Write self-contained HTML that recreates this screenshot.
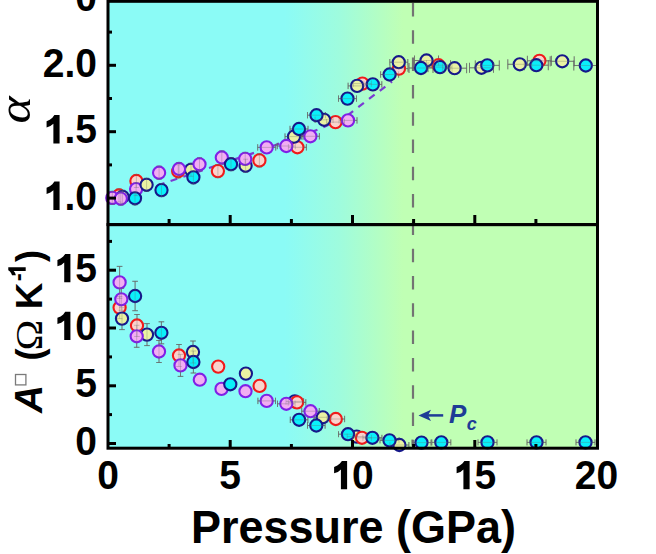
<!DOCTYPE html>
<html><head><meta charset="utf-8"><style>
html,body{margin:0;padding:0;background:#fff;width:656px;height:554px;overflow:hidden}
svg{display:block}
text{font-family:"Liberation Sans",sans-serif;font-weight:bold;fill:#000}
</style></head><body>
<svg width="656" height="554" viewBox="0 0 656 554">
<defs>
<linearGradient id="bg" gradientUnits="userSpaceOnUse" x1="285" y1="0" x2="403" y2="0">
<stop offset="0" stop-color="#8bfbf6"/><stop offset="0.47" stop-color="#9ffcdd"/><stop offset="1" stop-color="#c0ffb4"/>
</linearGradient>
</defs>
<rect x="108" y="1" width="490" height="447" fill="url(#bg)"/>
<path d="M413 3V448" stroke="#737373" stroke-width="2.2" stroke-dasharray="13.5 13.8" fill="none"/>
<path d="M112 200.5 L175 179.5 L255 152.5 L318 129.6 L345 117.3 L392 81.5" stroke="#7a3cd2" stroke-width="2.2" stroke-dasharray="7 6.5" stroke-dashoffset="5.74" fill="none"/>
<path d="M112.3 191.4V204.4M109.8 191.4H114.8M109.8 204.4H114.8M119 189.0V202.0M116.5 189.0H121.5M116.5 202.0H121.5M122.6 190.3V203.3M120.1 190.3H125.1M120.1 203.3H125.1M120.8 192.1V205.1M118.3 192.1H123.3M118.3 205.1H123.3M135 191.8V204.8M132.5 191.8H137.5M132.5 204.8H137.5M136.1 182.6V195.6M133.6 182.6H138.6M133.6 195.6H138.6M136.4 174.5V187.5M133.9 174.5H138.9M133.9 187.5H138.9M146.6 178.3V191.3M144.1 178.3H149.1M144.1 191.3H149.1M159.1 166.2V179.2M156.6 166.2H161.6M156.6 179.2H161.6M161.5 183.6V196.6M159.0 183.6H164.0M159.0 196.6H164.0M178.2 164.8V177.8M175.7 164.8H180.7M175.7 177.8H180.7M179 162.5V175.5M176.5 162.5H181.5M176.5 175.5H181.5M191 163.3V176.3M188.5 163.3H193.5M188.5 176.3H193.5M193.4 170.8V183.8M190.9 170.8H195.9M190.9 183.8H195.9M199.5 157.8V170.8M197.0 157.8H202.0M197.0 170.8H202.0M217.9 164.6V177.6M215.4 164.6H220.4M215.4 177.6H220.4M221.8 151.0V164.0M219.3 151.0H224.3M219.3 164.0H224.3M231 157.7V170.7M228.5 157.7H233.5M228.5 170.7H233.5M245.6 159.2V172.2M243.1 159.2H248.1M243.1 172.2H248.1M245.2 152.4V165.4M242.7 152.4H247.7M242.7 165.4H247.7M259.4 153.9V166.9M256.9 153.9H261.9M256.9 166.9H261.9M257.7 147.4H275.7M257.7 144.20000000000002V150.6M275.7 144.20000000000002V150.6M277.3 146H295.3M277.3 142.8V149.2M295.3 142.8V149.2M288.4 147.3H306.4M288.4 144.10000000000002V150.5M306.4 144.10000000000002V150.5M285.0 136.6H303.0M285.0 133.4V139.79999999999998M303.0 133.4V139.79999999999998M290.0 129H308.0M290.0 125.8V132.2M308.0 125.8V132.2M301.4 136.3H319.4M301.4 133.10000000000002V139.5M319.4 133.10000000000002V139.5M307.5 115.2H325.5M307.5 112.0V118.4M325.5 112.0V118.4M315.1 119.8H333.1M315.1 116.6V123.0M333.1 116.6V123.0M326.5 122.1H344.5M326.5 118.89999999999999V125.3M344.5 118.89999999999999V125.3M339.0 120.4H357.0M339.0 117.2V123.60000000000001M357.0 117.2V123.60000000000001M338.5 98.6H356.5M338.5 95.39999999999999V101.8M356.5 95.39999999999999V101.8M353.4 83.6H371.4M353.4 80.39999999999999V86.8M371.4 80.39999999999999V86.8M348.1 85.9H366.1M348.1 82.7V89.10000000000001M366.1 82.7V89.10000000000001M363.8 84.4H381.8M363.8 81.2V87.60000000000001M381.8 81.2V87.60000000000001M380.6 74.5H398.6M380.6 71.3V77.7M398.6 71.3V77.7M390.0 68.6H408.0M390.0 65.39999999999999V71.8M408.0 65.39999999999999V71.8M389.8 62.2H407.8M389.8 59.0V65.4M407.8 59.0V65.4M414.5 60.5H438.5M414.5 55.5V65.5M438.5 55.5V65.5M409.0 68H433.0M409.0 63V73M433.0 63V73M426.5 65.2H450.5M426.5 60.2V70.2M450.5 60.2V70.2M428.0 67.1H452.0M428.0 62.099999999999994V72.1M452.0 62.099999999999994V72.1M442.6 68.2H466.6M442.6 63.2V73.2M466.6 63.2V73.2M469.5 67.8H493.5M469.5 62.8V72.8M493.5 62.8V72.8M475.3 65.4H499.3M475.3 60.400000000000006V70.4M499.3 60.400000000000006V70.4M507.8 64.3H531.8M507.8 59.3V69.3M531.8 59.3V69.3M527.4 60.8H551.4M527.4 55.8V65.8M551.4 55.8V65.8M524.3 65.2H548.3M524.3 60.2V70.2M548.3 60.2V70.2M550.2 61.3H574.2M550.2 56.3V66.3M574.2 56.3V66.3M573.8 65.5H597.8M573.8 60.5V70.5M597.8 60.5V70.5M119.6 266.4V298.4M116.8 266.4H122.39999999999999M116.8 298.4H122.39999999999999M119.6 296.6V318.6M116.8 296.6H122.39999999999999M116.8 318.6H122.39999999999999M121.3 288.3V310.3M118.5 288.3H124.1M118.5 310.3H124.1M122 307.6V329.6M119.2 307.6H124.8M119.2 329.6H124.8M135.1 281.3V310.7M132.29999999999998 281.3H137.9M132.29999999999998 310.7H137.9M137 314.5V336.5M134.2 314.5H139.8M134.2 336.5H139.8M136.7 325.3V347.3M133.89999999999998 325.3H139.5M133.89999999999998 347.3H139.5M147 323.6V345.6M144.2 323.6H149.8M144.2 345.6H149.8M161.4 321.8V343.8M158.6 321.8H164.20000000000002M158.6 343.8H164.20000000000002M159 340.5V362.5M156.2 340.5H161.8M156.2 362.5H161.8M179 344.5V366.5M176.2 344.5H181.8M176.2 366.5H181.8M180.5 354.4V376.4M177.7 354.4H183.3M177.7 376.4H183.3M193 341.0V363.0M190.2 341.0H195.8M190.2 363.0H195.8M193.4 351.0V373.0M190.6 351.0H196.20000000000002M190.6 373.0H196.20000000000002M257.9 400.9H275.5M257.9 397.7V404.09999999999997M275.5 397.7V404.09999999999997M286.0 401.4H303.6M286.0 398.2V404.59999999999997M303.6 398.2V404.59999999999997M288.2 402.4H305.8M288.2 399.2V405.59999999999997M305.8 399.2V405.59999999999997M277.5 403.8H295.1M277.5 400.6V407.0M295.1 400.6V407.0M301.7 411.2H319.3M301.7 408.0V414.4M319.3 408.0V414.4M290.3 419.8H307.9M290.3 416.6V423.0M307.9 416.6V423.0M314.0 417.3H331.6M314.0 414.1V420.5M331.6 414.1V420.5M327.0 419H344.6M327.0 415.8V422.2M344.6 415.8V422.2M307.5 425.5H325.1M307.5 422.3V428.7M325.1 422.3V428.7M338.5 434.2H357.5M338.5 431.2V437.2M357.5 431.2V437.2M347.2 436.6H366.2M347.2 433.6V439.6M366.2 433.6V439.6M352.5 437.8H371.5M352.5 434.8V440.8M371.5 434.8V440.8M362.9 437.8H381.9M362.9 434.8V440.8M381.9 434.8V440.8M380.0 440.4H399.0M380.0 437.4V443.4M399.0 437.4V443.4M389.9 445H408.9M389.9 442V448M408.9 442V448M412.0 442.6H431.0M412.0 439.6V445.6M431.0 439.6V445.6M431.8 442.4H450.8M431.8 439.4V445.4M450.8 439.4V445.4M478.0 442.4H497.0M478.0 439.4V445.4M497.0 439.4V445.4M527.0 442.4H546.0M527.0 439.4V445.4M546.0 439.4V445.4M576.0 442.4H595.0M576.0 439.4V445.4M595.0 439.4V445.4" stroke="#666" stroke-width="0.8" fill="none"/>
<circle cx="119" cy="195.5" r="6.1" fill="#fad2cc" stroke="#f01a1a" stroke-width="2.1"/>
<circle cx="136.4" cy="181" r="6.1" fill="#fad2cc" stroke="#f01a1a" stroke-width="2.1"/>
<circle cx="178.2" cy="171.3" r="6.1" fill="#fad2cc" stroke="#f01a1a" stroke-width="2.1"/>
<circle cx="217.9" cy="171.1" r="6.1" fill="#fad2cc" stroke="#f01a1a" stroke-width="2.1"/>
<circle cx="259.4" cy="160.4" r="6.1" fill="#fad2cc" stroke="#f01a1a" stroke-width="2.1"/>
<circle cx="297.4" cy="147.3" r="6.1" fill="#fad2cc" stroke="#f01a1a" stroke-width="2.1"/>
<circle cx="335.5" cy="122.1" r="6.1" fill="#fad2cc" stroke="#f01a1a" stroke-width="2.1"/>
<circle cx="362.4" cy="83.6" r="6.1" fill="#fad2cc" stroke="#f01a1a" stroke-width="2.1"/>
<circle cx="399" cy="68.6" r="6.1" fill="#fad2cc" stroke="#f01a1a" stroke-width="2.1"/>
<circle cx="438.5" cy="65.2" r="6.1" fill="#fad2cc" stroke="#f01a1a" stroke-width="2.1"/>
<circle cx="539.4" cy="60.8" r="6.1" fill="#fad2cc" stroke="#f01a1a" stroke-width="2.1"/>
<circle cx="122.6" cy="196.8" r="6.1" fill="#eaf2a2" stroke="#16188a" stroke-width="2.1"/>
<circle cx="191" cy="169.8" r="6.1" fill="#eaf2a2" stroke="#16188a" stroke-width="2.1"/>
<circle cx="245.6" cy="165.7" r="6.1" fill="#eaf2a2" stroke="#16188a" stroke-width="2.1"/>
<circle cx="294" cy="136.6" r="6.1" fill="#eaf2a2" stroke="#16188a" stroke-width="2.1"/>
<circle cx="324.1" cy="119.8" r="6.1" fill="#eaf2a2" stroke="#16188a" stroke-width="2.1"/>
<circle cx="357.1" cy="85.9" r="6.1" fill="#eaf2a2" stroke="#16188a" stroke-width="2.1"/>
<circle cx="398.8" cy="62.2" r="6.1" fill="#eaf2a2" stroke="#16188a" stroke-width="2.1"/>
<circle cx="426.5" cy="60.5" r="6.1" fill="#eaf2a2" stroke="#16188a" stroke-width="2.1"/>
<circle cx="454.6" cy="68.2" r="6.1" fill="#eaf2a2" stroke="#16188a" stroke-width="2.1"/>
<circle cx="481.5" cy="67.8" r="6.1" fill="#eaf2a2" stroke="#16188a" stroke-width="2.1"/>
<circle cx="519.8" cy="64.3" r="6.1" fill="#eaf2a2" stroke="#16188a" stroke-width="2.1"/>
<circle cx="562.2" cy="61.3" r="6.1" fill="#eaf2a2" stroke="#16188a" stroke-width="2.1"/>
<circle cx="112.3" cy="197.9" r="6.1" fill="#f2aef2" stroke="#8020e6" stroke-width="2.1"/>
<circle cx="120.8" cy="198.6" r="6.1" fill="#f2aef2" stroke="#8020e6" stroke-width="2.1"/>
<circle cx="136.1" cy="189.1" r="6.1" fill="#f2aef2" stroke="#8020e6" stroke-width="2.1"/>
<circle cx="159.1" cy="172.7" r="6.1" fill="#f2aef2" stroke="#8020e6" stroke-width="2.1"/>
<circle cx="179" cy="169" r="6.1" fill="#f2aef2" stroke="#8020e6" stroke-width="2.1"/>
<circle cx="199.5" cy="164.3" r="6.1" fill="#f2aef2" stroke="#8020e6" stroke-width="2.1"/>
<circle cx="221.8" cy="157.5" r="6.1" fill="#f2aef2" stroke="#8020e6" stroke-width="2.1"/>
<circle cx="245.2" cy="158.9" r="6.1" fill="#f2aef2" stroke="#8020e6" stroke-width="2.1"/>
<circle cx="266.7" cy="147.4" r="6.1" fill="#f2aef2" stroke="#8020e6" stroke-width="2.1"/>
<circle cx="286.3" cy="146" r="6.1" fill="#f2aef2" stroke="#8020e6" stroke-width="2.1"/>
<circle cx="310.4" cy="136.3" r="6.1" fill="#f2aef2" stroke="#8020e6" stroke-width="2.1"/>
<circle cx="348" cy="120.4" r="6.1" fill="#f2aef2" stroke="#8020e6" stroke-width="2.1"/>
<circle cx="146.6" cy="184.8" r="6.1" fill="#eaf2a2" stroke="#16188a" stroke-width="2.1"/>
<circle cx="135" cy="198.3" r="6.1" fill="#0af0fa" stroke="#16188a" stroke-width="2.1"/>
<circle cx="161.5" cy="190.1" r="6.1" fill="#0af0fa" stroke="#16188a" stroke-width="2.1"/>
<circle cx="193.4" cy="177.3" r="6.1" fill="#0af0fa" stroke="#16188a" stroke-width="2.1"/>
<circle cx="231" cy="164.2" r="6.1" fill="#0af0fa" stroke="#16188a" stroke-width="2.1"/>
<circle cx="299" cy="129" r="6.1" fill="#0af0fa" stroke="#16188a" stroke-width="2.1"/>
<circle cx="316.5" cy="115.2" r="6.1" fill="#0af0fa" stroke="#16188a" stroke-width="2.1"/>
<circle cx="347.5" cy="98.6" r="6.1" fill="#0af0fa" stroke="#16188a" stroke-width="2.1"/>
<circle cx="372.8" cy="84.4" r="6.1" fill="#0af0fa" stroke="#16188a" stroke-width="2.1"/>
<circle cx="389.6" cy="74.5" r="6.1" fill="#0af0fa" stroke="#16188a" stroke-width="2.1"/>
<circle cx="421" cy="68" r="6.1" fill="#0af0fa" stroke="#16188a" stroke-width="2.1"/>
<circle cx="440" cy="67.1" r="6.1" fill="#0af0fa" stroke="#16188a" stroke-width="2.1"/>
<circle cx="487.3" cy="65.4" r="6.1" fill="#0af0fa" stroke="#16188a" stroke-width="2.1"/>
<circle cx="536.3" cy="65.2" r="6.1" fill="#0af0fa" stroke="#16188a" stroke-width="2.1"/>
<circle cx="585.8" cy="65.5" r="6.1" fill="#0af0fa" stroke="#16188a" stroke-width="2.1"/>
<circle cx="119.6" cy="307.6" r="6.1" fill="#fad2cc" stroke="#f01a1a" stroke-width="2.1"/>
<circle cx="137" cy="325.5" r="6.1" fill="#fad2cc" stroke="#f01a1a" stroke-width="2.1"/>
<circle cx="179" cy="355.5" r="6.1" fill="#fad2cc" stroke="#f01a1a" stroke-width="2.1"/>
<circle cx="218.2" cy="366.6" r="6.1" fill="#fad2cc" stroke="#f01a1a" stroke-width="2.1"/>
<circle cx="259.6" cy="385.9" r="6.1" fill="#fad2cc" stroke="#f01a1a" stroke-width="2.1"/>
<circle cx="335.8" cy="419" r="6.1" fill="#fad2cc" stroke="#f01a1a" stroke-width="2.1"/>
<circle cx="122" cy="318.6" r="6.1" fill="#eaf2a2" stroke="#16188a" stroke-width="2.1"/>
<circle cx="147" cy="334.6" r="6.1" fill="#eaf2a2" stroke="#16188a" stroke-width="2.1"/>
<circle cx="193" cy="352" r="6.1" fill="#eaf2a2" stroke="#16188a" stroke-width="2.1"/>
<circle cx="245.9" cy="373.6" r="6.1" fill="#eaf2a2" stroke="#16188a" stroke-width="2.1"/>
<circle cx="294.8" cy="401.4" r="6.1" fill="#eaf2a2" stroke="#16188a" stroke-width="2.1"/>
<circle cx="322.8" cy="417.3" r="6.1" fill="#eaf2a2" stroke="#16188a" stroke-width="2.1"/>
<circle cx="356.7" cy="436.6" r="6.1" fill="#eaf2a2" stroke="#16188a" stroke-width="2.1"/>
<circle cx="399.4" cy="445" r="6.1" fill="#eaf2a2" stroke="#16188a" stroke-width="2.1"/>
<circle cx="297" cy="402.4" r="6.1" fill="#fad2cc" stroke="#f01a1a" stroke-width="2.1"/>
<circle cx="362" cy="437.8" r="6.1" fill="#fad2cc" stroke="#f01a1a" stroke-width="2.1"/>
<circle cx="119.6" cy="282.4" r="6.1" fill="#f2aef2" stroke="#8020e6" stroke-width="2.1"/>
<circle cx="121.3" cy="299.3" r="6.1" fill="#f2aef2" stroke="#8020e6" stroke-width="2.1"/>
<circle cx="136.7" cy="336.3" r="6.1" fill="#f2aef2" stroke="#8020e6" stroke-width="2.1"/>
<circle cx="159" cy="351.5" r="6.1" fill="#f2aef2" stroke="#8020e6" stroke-width="2.1"/>
<circle cx="180.5" cy="365.4" r="6.1" fill="#f2aef2" stroke="#8020e6" stroke-width="2.1"/>
<circle cx="199.8" cy="379.7" r="6.1" fill="#f2aef2" stroke="#8020e6" stroke-width="2.1"/>
<circle cx="221.5" cy="388.9" r="6.1" fill="#f2aef2" stroke="#8020e6" stroke-width="2.1"/>
<circle cx="245.5" cy="391.2" r="6.1" fill="#f2aef2" stroke="#8020e6" stroke-width="2.1"/>
<circle cx="266.7" cy="400.9" r="6.1" fill="#f2aef2" stroke="#8020e6" stroke-width="2.1"/>
<circle cx="286.3" cy="403.8" r="6.1" fill="#f2aef2" stroke="#8020e6" stroke-width="2.1"/>
<circle cx="310.5" cy="411.2" r="6.1" fill="#f2aef2" stroke="#8020e6" stroke-width="2.1"/>
<circle cx="135.1" cy="296" r="6.1" fill="#0af0fa" stroke="#16188a" stroke-width="2.1"/>
<circle cx="161.4" cy="332.8" r="6.1" fill="#0af0fa" stroke="#16188a" stroke-width="2.1"/>
<circle cx="193.4" cy="362" r="6.1" fill="#0af0fa" stroke="#16188a" stroke-width="2.1"/>
<circle cx="230.3" cy="384.3" r="6.1" fill="#0af0fa" stroke="#16188a" stroke-width="2.1"/>
<circle cx="299.1" cy="419.8" r="6.1" fill="#0af0fa" stroke="#16188a" stroke-width="2.1"/>
<circle cx="316.3" cy="425.5" r="6.1" fill="#0af0fa" stroke="#16188a" stroke-width="2.1"/>
<circle cx="348" cy="434.2" r="6.1" fill="#0af0fa" stroke="#16188a" stroke-width="2.1"/>
<circle cx="372.4" cy="437.8" r="6.1" fill="#0af0fa" stroke="#16188a" stroke-width="2.1"/>
<circle cx="389.5" cy="440.4" r="6.1" fill="#0af0fa" stroke="#16188a" stroke-width="2.1"/>
<circle cx="421.5" cy="442.6" r="6.1" fill="#0af0fa" stroke="#16188a" stroke-width="2.1"/>
<circle cx="441.3" cy="442.4" r="6.1" fill="#0af0fa" stroke="#16188a" stroke-width="2.1"/>
<circle cx="487.5" cy="442.4" r="6.1" fill="#0af0fa" stroke="#16188a" stroke-width="2.1"/>
<circle cx="536.5" cy="442.4" r="6.1" fill="#0af0fa" stroke="#16188a" stroke-width="2.1"/>
<circle cx="585.5" cy="442.4" r="6.1" fill="#0af0fa" stroke="#16188a" stroke-width="2.1"/>
<path d="M112.3 191.4V204.4M109.8 191.4H114.8M109.8 204.4H114.8M119 189.0V202.0M116.5 189.0H121.5M116.5 202.0H121.5M122.6 190.3V203.3M120.1 190.3H125.1M120.1 203.3H125.1M120.8 192.1V205.1M118.3 192.1H123.3M118.3 205.1H123.3M135 191.8V204.8M132.5 191.8H137.5M132.5 204.8H137.5M136.1 182.6V195.6M133.6 182.6H138.6M133.6 195.6H138.6M136.4 174.5V187.5M133.9 174.5H138.9M133.9 187.5H138.9M146.6 178.3V191.3M144.1 178.3H149.1M144.1 191.3H149.1M159.1 166.2V179.2M156.6 166.2H161.6M156.6 179.2H161.6M161.5 183.6V196.6M159.0 183.6H164.0M159.0 196.6H164.0M178.2 164.8V177.8M175.7 164.8H180.7M175.7 177.8H180.7M179 162.5V175.5M176.5 162.5H181.5M176.5 175.5H181.5M191 163.3V176.3M188.5 163.3H193.5M188.5 176.3H193.5M193.4 170.8V183.8M190.9 170.8H195.9M190.9 183.8H195.9M199.5 157.8V170.8M197.0 157.8H202.0M197.0 170.8H202.0M217.9 164.6V177.6M215.4 164.6H220.4M215.4 177.6H220.4M221.8 151.0V164.0M219.3 151.0H224.3M219.3 164.0H224.3M231 157.7V170.7M228.5 157.7H233.5M228.5 170.7H233.5M245.6 159.2V172.2M243.1 159.2H248.1M243.1 172.2H248.1M245.2 152.4V165.4M242.7 152.4H247.7M242.7 165.4H247.7M259.4 153.9V166.9M256.9 153.9H261.9M256.9 166.9H261.9M257.7 147.4H275.7M257.7 144.20000000000002V150.6M275.7 144.20000000000002V150.6M277.3 146H295.3M277.3 142.8V149.2M295.3 142.8V149.2M288.4 147.3H306.4M288.4 144.10000000000002V150.5M306.4 144.10000000000002V150.5M285.0 136.6H303.0M285.0 133.4V139.79999999999998M303.0 133.4V139.79999999999998M290.0 129H308.0M290.0 125.8V132.2M308.0 125.8V132.2M301.4 136.3H319.4M301.4 133.10000000000002V139.5M319.4 133.10000000000002V139.5M307.5 115.2H325.5M307.5 112.0V118.4M325.5 112.0V118.4M315.1 119.8H333.1M315.1 116.6V123.0M333.1 116.6V123.0M326.5 122.1H344.5M326.5 118.89999999999999V125.3M344.5 118.89999999999999V125.3M339.0 120.4H357.0M339.0 117.2V123.60000000000001M357.0 117.2V123.60000000000001M338.5 98.6H356.5M338.5 95.39999999999999V101.8M356.5 95.39999999999999V101.8M353.4 83.6H371.4M353.4 80.39999999999999V86.8M371.4 80.39999999999999V86.8M348.1 85.9H366.1M348.1 82.7V89.10000000000001M366.1 82.7V89.10000000000001M363.8 84.4H381.8M363.8 81.2V87.60000000000001M381.8 81.2V87.60000000000001M380.6 74.5H398.6M380.6 71.3V77.7M398.6 71.3V77.7M390.0 68.6H408.0M390.0 65.39999999999999V71.8M408.0 65.39999999999999V71.8M389.8 62.2H407.8M389.8 59.0V65.4M407.8 59.0V65.4M414.5 60.5H438.5M414.5 55.5V65.5M438.5 55.5V65.5M409.0 68H433.0M409.0 63V73M433.0 63V73M426.5 65.2H450.5M426.5 60.2V70.2M450.5 60.2V70.2M428.0 67.1H452.0M428.0 62.099999999999994V72.1M452.0 62.099999999999994V72.1M442.6 68.2H466.6M442.6 63.2V73.2M466.6 63.2V73.2M469.5 67.8H493.5M469.5 62.8V72.8M493.5 62.8V72.8M475.3 65.4H499.3M475.3 60.400000000000006V70.4M499.3 60.400000000000006V70.4M507.8 64.3H531.8M507.8 59.3V69.3M531.8 59.3V69.3M527.4 60.8H551.4M527.4 55.8V65.8M551.4 55.8V65.8M524.3 65.2H548.3M524.3 60.2V70.2M548.3 60.2V70.2M550.2 61.3H574.2M550.2 56.3V66.3M574.2 56.3V66.3M573.8 65.5H597.8M573.8 60.5V70.5M597.8 60.5V70.5M119.6 266.4V298.4M116.8 266.4H122.39999999999999M116.8 298.4H122.39999999999999M119.6 296.6V318.6M116.8 296.6H122.39999999999999M116.8 318.6H122.39999999999999M121.3 288.3V310.3M118.5 288.3H124.1M118.5 310.3H124.1M122 307.6V329.6M119.2 307.6H124.8M119.2 329.6H124.8M135.1 281.3V310.7M132.29999999999998 281.3H137.9M132.29999999999998 310.7H137.9M137 314.5V336.5M134.2 314.5H139.8M134.2 336.5H139.8M136.7 325.3V347.3M133.89999999999998 325.3H139.5M133.89999999999998 347.3H139.5M147 323.6V345.6M144.2 323.6H149.8M144.2 345.6H149.8M161.4 321.8V343.8M158.6 321.8H164.20000000000002M158.6 343.8H164.20000000000002M159 340.5V362.5M156.2 340.5H161.8M156.2 362.5H161.8M179 344.5V366.5M176.2 344.5H181.8M176.2 366.5H181.8M180.5 354.4V376.4M177.7 354.4H183.3M177.7 376.4H183.3M193 341.0V363.0M190.2 341.0H195.8M190.2 363.0H195.8M193.4 351.0V373.0M190.6 351.0H196.20000000000002M190.6 373.0H196.20000000000002M257.9 400.9H275.5M257.9 397.7V404.09999999999997M275.5 397.7V404.09999999999997M286.0 401.4H303.6M286.0 398.2V404.59999999999997M303.6 398.2V404.59999999999997M288.2 402.4H305.8M288.2 399.2V405.59999999999997M305.8 399.2V405.59999999999997M277.5 403.8H295.1M277.5 400.6V407.0M295.1 400.6V407.0M301.7 411.2H319.3M301.7 408.0V414.4M319.3 408.0V414.4M290.3 419.8H307.9M290.3 416.6V423.0M307.9 416.6V423.0M314.0 417.3H331.6M314.0 414.1V420.5M331.6 414.1V420.5M327.0 419H344.6M327.0 415.8V422.2M344.6 415.8V422.2M307.5 425.5H325.1M307.5 422.3V428.7M325.1 422.3V428.7M338.5 434.2H357.5M338.5 431.2V437.2M357.5 431.2V437.2M347.2 436.6H366.2M347.2 433.6V439.6M366.2 433.6V439.6M352.5 437.8H371.5M352.5 434.8V440.8M371.5 434.8V440.8M362.9 437.8H381.9M362.9 434.8V440.8M381.9 434.8V440.8M380.0 440.4H399.0M380.0 437.4V443.4M399.0 437.4V443.4M389.9 445H408.9M389.9 442V448M408.9 442V448M412.0 442.6H431.0M412.0 439.6V445.6M431.0 439.6V445.6M431.8 442.4H450.8M431.8 439.4V445.4M450.8 439.4V445.4M478.0 442.4H497.0M478.0 439.4V445.4M497.0 439.4V445.4M527.0 442.4H546.0M527.0 439.4V445.4M546.0 439.4V445.4M576.0 442.4H595.0M576.0 439.4V445.4M595.0 439.4V445.4" stroke="#666" stroke-width="0.9" fill="none" opacity="0.35"/>
<g stroke="#000" stroke-width="3" fill="none">
<rect x="108" y="1.3" width="489.5" height="223.3"/>
<rect x="108" y="224.6" width="489.5" height="223.6"/>
<path d="M108 32.1H112" /><path d="M108 65.3H116" /><path d="M108 98.5H112" /><path d="M108 131.7H116" /><path d="M108 164.9H112" /><path d="M108 198.1H116" /><path d="M108 241.4H112" /><path d="M108 270.2H116" /><path d="M108 299.1H112" /><path d="M108 328.0H116" /><path d="M108 356.9H112" /><path d="M108 385.8H116" /><path d="M108 414.6H112" /><path d="M108 443.5H116" /><path d="M169.1 223H169.1V219" /><path d="M169.1 448H169.1V444" /><path d="M230.2 223H230.2V215" /><path d="M230.2 448H230.2V440" /><path d="M291.4 223H291.4V219" /><path d="M291.4 448H291.4V444" /><path d="M352.5 223H352.5V215" /><path d="M352.5 448H352.5V440" /><path d="M413.6 223H413.6V219" /><path d="M413.6 448H413.6V444" /><path d="M474.8 223H474.8V215" /><path d="M474.8 448H474.8V440" /><path d="M535.9 223H535.9V219" /><path d="M535.9 448H535.9V444" />
</g>
<g font-size="39">
<text transform="translate(97,11.2) scale(1,1.03)" text-anchor="end">0</text>
<text transform="translate(97,77) scale(1,1.03)" text-anchor="end">2.0</text>
<path d="M53.38 143.40 L59.58 143.40 L59.58 115.10 L54.38 115.10 L52.38 117.80 L49.78 119.80 L46.58 121.20 L46.58 127.40 L50.38 126.10 L53.38 123.80Z" fill="#000"/><text transform="translate(64.47,143.4) scale(1,1.03)" text-anchor="start">.5</text>
<path d="M53.38 209.90 L59.58 209.90 L59.58 181.60 L54.38 181.60 L52.38 184.30 L49.78 186.30 L46.58 187.70 L46.58 193.90 L50.38 192.60 L53.38 190.30Z" fill="#000"/><text transform="translate(64.47,209.9) scale(1,1.03)" text-anchor="start">.0</text>
<path d="M64.22 282.20 L70.42 282.20 L70.42 253.90 L65.22 253.90 L63.22 256.60 L60.62 258.60 L57.42 260.00 L57.42 266.20 L61.22 264.90 L64.22 262.60Z" fill="#000"/><text transform="translate(75.31,282.2) scale(1,1.03)" text-anchor="start">5</text>
<path d="M64.22 340.00 L70.42 340.00 L70.42 311.70 L65.22 311.70 L63.22 314.40 L60.62 316.40 L57.42 317.80 L57.42 324.00 L61.22 322.70 L64.22 320.40Z" fill="#000"/><text transform="translate(75.31,340) scale(1,1.03)" text-anchor="start">0</text>
<text transform="translate(97,397.2) scale(1,1.03)" text-anchor="end">5</text>
<text transform="translate(97,454.8) scale(1,1.03)" text-anchor="end">0</text>
<text transform="translate(108,489.2) scale(1,1.03)" text-anchor="middle">0</text>
<text transform="translate(230.2,489.2) scale(1,1.03)" text-anchor="middle">5</text>
<path d="M340.91 489.20 L347.11 489.20 L347.11 460.90 L341.91 460.90 L339.91 463.60 L337.31 465.60 L334.11 467.00 L334.11 473.20 L337.91 471.90 L340.91 469.60Z" fill="#000"/><text transform="translate(352,489.2) scale(1,1.03)" text-anchor="start">0</text>
<path d="M463.41 489.20 L469.61 489.20 L469.61 460.90 L464.41 460.90 L462.41 463.60 L459.81 465.60 L456.61 467.00 L456.61 473.20 L460.41 471.90 L463.41 469.60Z" fill="#000"/><text transform="translate(474.5,489.2) scale(1,1.03)" text-anchor="start">5</text>
<text transform="translate(596.5,489.2) scale(1,1.03)" text-anchor="middle">20</text>
</g>
<text transform="translate(191,542.6) scale(1,1.035)" font-size="45">Pressure (GPa)</text>
<text transform="translate(29.8,110) rotate(-90) scale(1.1,1)" text-anchor="middle" font-size="47" style="font-family:'Liberation Serif',serif;font-style:italic;font-weight:normal">α</text>
<g transform="translate(41.5,414) rotate(-90)">
<text x="1.07" y="0" font-size="39" style="font-style:italic">A</text>
<rect x="29.1" y="-26" width="10.4" height="10.4" fill="none" stroke="#7a7a7a" stroke-width="1.3"/>
<text x="53.6" y="0" font-size="36">(</text>
<text transform="translate(63.6,0) scale(1.09,1)" font-size="38" style="font-family:'Liberation Serif',serif;font-weight:normal">Ω</text>
<text x="104.7" y="0" font-size="37">K</text>
<text x="132.8" y="-15.8" font-size="24">-</text>
<path d="M143.02 -15.80 L146.84 -15.80 L146.84 -33.22 L143.64 -33.22 L142.41 -31.55 L140.81 -30.32 L138.84 -29.46 L138.84 -25.65 L141.18 -26.45 L143.02 -27.86Z" fill="#000"/>
<text x="152" y="0" font-size="36">)</text>
</g>
<g fill="#1e3c96">
<path d="M443.2 415.4H426" stroke="#1e3c96" stroke-width="2.5"/>
<path d="M418.5 415.4L431 409.8L428 415.4L431 421Z"/>
<text x="449" y="422.9" font-size="26" style="font-style:italic;fill:#1e3c96">P</text>
<text x="466.8" y="429.5" font-size="18" style="font-style:italic;fill:#1e3c96">c</text>
</g>
</svg>
</body></html>
